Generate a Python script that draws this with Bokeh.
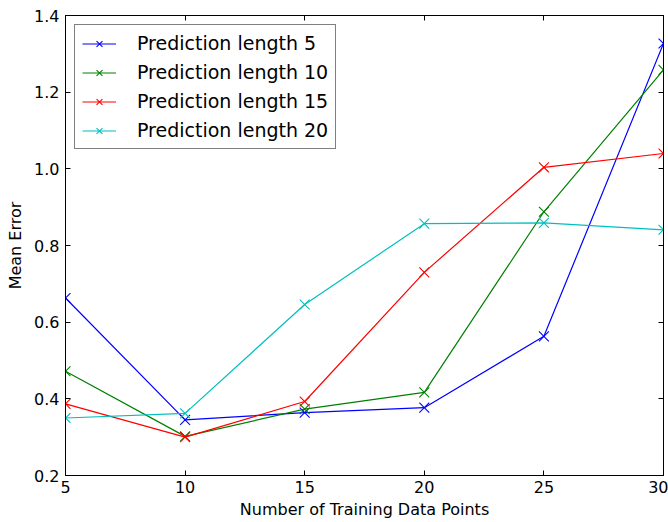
from bokeh.plotting import figure
from bokeh.models import (Range1d, LinearAxis, FixedTicker, PrintfTickFormatter,
                          Legend, LegendItem)
from bokeh.embed import file_html
from bokeh.resources import INLINE

# Mean error vs. number of training points, one series per prediction length
training_points = [5, 10, 15, 20, 25, 30]
err_len5 = [0.663, 0.345, 0.364, 0.377, 0.563, 1.327]
err_len10 = [0.472, 0.302, 0.373, 0.417, 0.888, 1.258]
err_len15 = [0.387, 0.300, 0.393, 0.730, 1.004, 1.040]
err_len20 = [0.350, 0.362, 0.646, 0.857, 0.859, 0.841]

series_labels = ["Prediction length 5", "Prediction length 10",
                 "Prediction length 15", "Prediction length 20"]
series_colors = ["#0000ff", "#008000", "#ff0000", "#00bfbf"]

x_ticks = [5, 10, 15, 20, 25, 30]
y_ticks = [0.2, 0.4, 0.6, 0.8, 1.0, 1.2, 1.4]

FONT = "DejaVu Sans"
FS = "16px"
LEGEND_FS = "19px"

p = figure(width=668, height=522, output_backend="svg", toolbar_location=None,
           x_range=Range1d(5, 30), y_range=Range1d(0.2, 1.4),
           min_border_left=65, min_border_right=5, min_border_top=15,
           min_border_bottom=47)
p.background_fill_color = "white"
p.border_fill_color = "white"
p.outline_line_color = "black"
p.outline_line_width = 1
p.xgrid.visible = False
p.ygrid.visible = False


def style_axis(ax, ticks, fmt, show_labels=True):
    ax.ticker = FixedTicker(ticks=ticks)
    ax.formatter = PrintfTickFormatter(format=fmt)
    ax.major_tick_in = 5
    ax.major_tick_out = 0
    ax.minor_tick_line_color = None
    ax.axis_line_color = "black"
    ax.major_tick_line_color = "black"
    ax.major_label_text_font = FONT
    ax.major_label_text_color = "black"
    ax.major_label_text_font_size = FS
    if not show_labels:
        # tick marks only, no numbers on the mirrored spines
        ax.major_label_overrides = {t: "" for t in ticks}
        ax.major_label_standoff = 0


style_axis(p.xaxis[0], x_ticks, "%d")
style_axis(p.yaxis[0], y_ticks, "%.1f")
p.xaxis[0].major_label_standoff = 5
p.yaxis[0].major_label_standoff = 6

p.xaxis.axis_label = "Number of Training Data Points"
p.yaxis.axis_label = "Mean Error"
for ax in (p.xaxis[0], p.yaxis[0]):
    ax.axis_label_text_font = FONT
    ax.axis_label_text_font_size = FS
    ax.axis_label_text_font_style = "normal"
    ax.axis_label_text_color = "black"
p.xaxis[0].axis_label_standoff = 4
p.yaxis[0].axis_label_standoff = 6

# Mirrored tick marks on the top and right spines
top_ax = LinearAxis()
style_axis(top_ax, x_ticks, "%d", show_labels=False)
p.add_layout(top_ax, "above")
right_ax = LinearAxis()
style_axis(right_ax, y_ticks, "%.1f", show_labels=False)
p.add_layout(right_ax, "right")

items = []
for vals, label, color in zip([err_len5, err_len10, err_len15, err_len20],
                              series_labels, series_colors):
    ln = p.line(training_points, vals, line_color=color, line_width=1.2)
    sc = p.scatter(training_points, vals, marker="x", size=14,
                   line_color=color, line_width=1.1)
    items.append(LegendItem(label=label, renderers=[ln, sc]))

legend = Legend(items=items, location="top_left")
legend.margin = 9
legend.padding = 7
legend.spacing = 7
legend.glyph_width = 34
legend.glyph_height = 21
legend.label_height = 21
legend.label_standoff = 21
legend.label_text_font = FONT
legend.label_text_font_size = LEGEND_FS
legend.label_text_color = "black"
legend.border_line_color = "black"
legend.border_line_width = 1
legend.background_fill_color = "white"
legend.background_fill_alpha = 1.0
p.add_layout(legend, "center")

open("out.html", "w").write(file_html(p, INLINE))
